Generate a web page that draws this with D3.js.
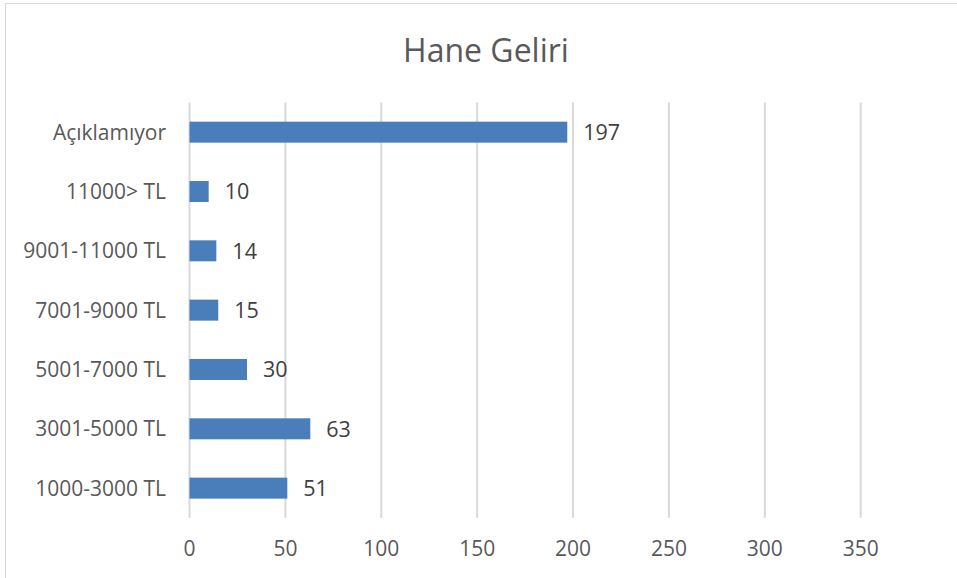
<!DOCTYPE html>
<html>
<head>
<meta charset="utf-8">
<script src="https://cdn.jsdelivr.net/npm/d3@7"></script>
<style>
  html, body { margin: 0; padding: 0; background: #fff; }
  svg { display: block; font-family: "Open Sans", "Noto Sans", sans-serif; }
</style>
</head>
<body>
<svg id="chart" width="957" height="578"></svg>
<script>
// Household income groups (top to bottom) and respondent counts
const categories = ["Açıklamıyor", "11000> TL", "9001-11000 TL", "7001-9000 TL", "5001-7000 TL", "3001-5000 TL", "1000-3000 TL"];
const values = [197, 10, 14, 15, 30, 63, 51];
const xTicks = [0, 50, 100, 150, 200, 250, 300, 350];
const title = "Hane Geliri";

const svg = d3.select("#chart");
const margin = { left: 189.5, right: 957 - 860.7, top: 102.5, bottom: 578 - 517.8 };
const width = 957, height = 578;

// chart frame
svg.append("rect")
  .attr("x", 5.5).attr("y", 3.5)
  .attr("width", 960).attr("height", 600)
  .attr("fill", "#fff").attr("stroke", "#d9d9d9").attr("stroke-width", 1);

const x = d3.scaleLinear().domain([0, 350]).range([margin.left, width - margin.right]);
const y = d3.scaleBand().domain(categories)
  .range([margin.top, height - margin.bottom])
  .paddingInner(0.646).paddingOuter(0.323);

// vertical gridlines
svg.append("g").selectAll("line").data(xTicks).join("line")
  .attr("x1", d => x(d)).attr("x2", d => x(d))
  .attr("y1", margin.top).attr("y2", height - margin.bottom)
  .attr("stroke", "#d9d9d9").attr("stroke-width", 2);

// bars
svg.append("g").selectAll("rect").data(categories).join("rect")
  .attr("x", x(0))
  .attr("y", d => y(d))
  .attr("width", (d, i) => x(values[i]) - x(0))
  .attr("height", y.bandwidth())
  .attr("fill", "#4a7ebb");

// value labels
svg.append("g").selectAll("text").data(categories).join("text")
  .attr("x", (d, i) => x(values[i]) + 16)
  .attr("y", d => y(d) + y.bandwidth() / 2)
  .attr("dy", "0.36em")
  .attr("font-size", 21.5)
  .attr("fill", "#404040")
  .text((d, i) => values[i]);

// category axis labels
svg.append("g").selectAll("text").data(categories).join("text")
  .attr("x", 166)
  .attr("y", d => y(d) + y.bandwidth() / 2)
  .attr("dy", "0.36em")
  .attr("text-anchor", "end")
  .attr("font-size", 21)
  .attr("fill", "#595959")
  .text(d => d);

// value axis tick labels
svg.append("g").selectAll("text").data(xTicks).join("text")
  .attr("x", d => x(d))
  .attr("y", 548)
  .attr("dy", "0.36em")
  .attr("text-anchor", "middle")
  .attr("font-size", 21)
  .attr("fill", "#595959")
  .text(d => d);

// title
svg.append("text")
  .attr("x", 486).attr("y", 50)
  .attr("dy", "0.36em")
  .attr("text-anchor", "middle")
  .attr("font-size", 32)
  .attr("fill", "#595959")
  .text(title);
</script>
</body>
</html>
